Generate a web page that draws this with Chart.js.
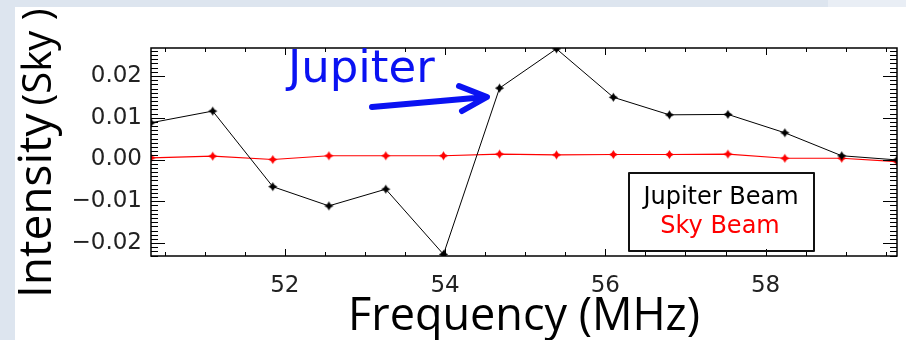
<!DOCTYPE html>
<html>
<head>
<meta charset="utf-8">
<title>Jupiter beam vs sky beam</title>
<script src="https://cdn.jsdelivr.net/npm/chart.js@4.4.0/dist/chart.umd.min.js"></script>
<style>
  html, body { margin: 0; padding: 0; }
  body { width: 906px; height: 340px; position: relative; overflow: hidden; background: #dde5ef; }
  #panel { position: absolute; left: 15px; top: 7px; width: 891px; height: 333px; background: #fff; }
  #wrap { position: absolute; left: 0; top: 0; width: 906px; height: 340px; }
  #band { position: absolute; left: 0; top: 0; width: 906px; height: 7px; background: #dde5ef; }
  #band-right { position: absolute; left: 828px; top: 0; width: 78px; height: 7px; background: #e9eef5; }
  #band-left { position: absolute; left: 0; top: 0; width: 15px; height: 340px; background: #dde5ef; }
</style>
</head>
<body>
<div id="panel"></div>
<div id="wrap"><canvas id="spectrum-chart" width="906" height="340"></canvas></div>
<div id="band"></div>
<div id="band-right"></div>
<div id="band-left"></div>
<script>
// Frequency channels (MHz)
const frequencies = [50.33, 51.10, 51.85, 52.55, 53.26, 53.98, 54.68, 55.39, 56.10, 56.80, 57.53, 58.24, 58.95, 59.64];
// Intensity (sky units)
const jupiterBeam = [0.0088, 0.0116, -0.0065, -0.0111, -0.0071, -0.0227, 0.0171, 0.0265, 0.0149, 0.0107, 0.0108, 0.0064, 0.0009, -0.0001];
const skyBeam = [0.0004, 0.0008, 0.0000, 0.0009, 0.0009, 0.0009, 0.0013, 0.0011, 0.0012, 0.0012, 0.0013, 0.0003, 0.0003, -0.0005];

const xTicks = [52, 54, 56, 58];
const yTicks = [-0.02, -0.01, 0.00, 0.01, 0.02];
const xRange = [50.33, 59.64];
const yRange = [-0.0231, 0.0267];

// small 4-point star marker, like the IDL plus symbol
function starMarker(color) {
    const c = document.createElement('canvas');
    c.width = 11; c.height = 11;
    const g = c.getContext('2d');
    const m = 5.5, r = 4.6, k = 1.7;
    g.fillStyle = color;
    g.beginPath();
    g.moveTo(m, m - r);
    g.lineTo(m + k, m - k);
    g.lineTo(m + r, m);
    g.lineTo(m + k, m + k);
    g.lineTo(m, m + r);
    g.lineTo(m - k, m + k);
    g.lineTo(m - r, m);
    g.lineTo(m - k, m - k);
    g.closePath();
    g.fill();
    return c;
}

function formatIntensity(v) {
    if (Math.abs(v) < 1e-9) return '0.00';
    return (v < 0 ? '\u2212' : '') + Math.abs(v).toFixed(2);
}

// inward ticks on all four sides + the box
const frameTicks = {
    id: 'frameTicks',
    afterDatasetsDraw(chart) {
        const { ctx, chartArea: a, scales: { x, y } } = chart;
        ctx.save();
        ctx.strokeStyle = '#000';
        ctx.lineWidth = 1;
        ctx.beginPath();
        for (let k = Math.ceil(x.min * 2); k <= Math.floor(x.max * 2); k++) {
            const px = Math.round(x.getPixelForValue(k / 2)) + 0.5;
            const len = (k % 4 === 0) ? 7 : 4;
            ctx.moveTo(px, a.bottom); ctx.lineTo(px, a.bottom - len);
            ctx.moveTo(px, a.top); ctx.lineTo(px, a.top + len);
        }
        for (let k = Math.ceil(y.min * 1000); k <= Math.floor(y.max * 1000); k++) {
            const py = Math.round(y.getPixelForValue(k / 1000)) + 0.5;
            const len = (k % 10 === 0) ? 14 : 7;
            ctx.moveTo(a.left, py); ctx.lineTo(a.left + len, py);
            ctx.moveTo(a.right, py); ctx.lineTo(a.right - len, py);
        }
        ctx.stroke();
        ctx.lineWidth = 1.5;
        ctx.strokeRect(a.left, a.top, a.right - a.left, a.bottom - a.top);
        ctx.restore();
    }
};

// y title, annotation arrow and the boxed legend
const annotations = {
    id: 'annotations',
    afterDraw(chart) {
        const ctx = chart.ctx;
        ctx.save();

        // y axis title, two sizes
        ctx.translate(51, 298);
        ctx.rotate(-Math.PI / 2);
        ctx.fillStyle = '#000';
        ctx.textBaseline = 'alphabetic';
        ctx.font = "46px 'Open Sans'";
        ctx.fillText('Intensity', 0, 0);
        const w = ctx.measureText('Intensity').width;
        ctx.font = "40px 'Open Sans'";
        ctx.fillText('(Sky )', w + 8, 0);
        ctx.setTransform(1, 0, 0, 1, 0, 0);

        // "Jupiter" label with arrow
        ctx.fillStyle = '#0a12f2';
        ctx.strokeStyle = '#0a12f2';
        ctx.font = "45px 'DejaVu Sans'";
        ctx.fillText('Jupiter', 288, 82);
        ctx.lineWidth = 6;
        ctx.lineCap = 'round';
        ctx.lineJoin = 'round';
        ctx.beginPath();
        ctx.moveTo(372, 107);
        ctx.lineTo(486, 97);
        ctx.moveTo(459, 86);
        ctx.lineTo(487, 97);
        ctx.lineTo(462, 111);
        ctx.stroke();

        // legend box
        ctx.lineWidth = 2;
        ctx.lineCap = 'butt';
        ctx.strokeStyle = '#111';
        ctx.strokeRect(629, 173, 185, 78);
        ctx.textAlign = 'center';
        ctx.font = "24px 'DejaVu Sans'";
        ctx.fillStyle = '#000';
        ctx.fillText('Jupiter Beam', 721, 204);
        ctx.fillStyle = '#ff0000';
        ctx.fillText('Sky Beam', 720, 233);
        ctx.restore();
    }
};

const chart = new Chart(document.getElementById('spectrum-chart'), {
    type: 'line',
    data: {
        datasets: [
            {
                label: 'Jupiter Beam',
                data: frequencies.map((f, i) => ({ x: f, y: jupiterBeam[i] })),
                borderColor: '#000',
                borderWidth: 1,
                pointStyle: starMarker('#000'),
                pointRadius: 4,
                tension: 0
            },
            {
                label: 'Sky Beam',
                data: frequencies.map((f, i) => ({ x: f, y: skyBeam[i] })),
                borderColor: '#ff0000',
                borderWidth: 1.2,
                pointStyle: starMarker('#ff0000'),
                pointRadius: 4,
                tension: 0
            }
        ]
    },
    options: {
        responsive: false,
        animation: false,
        layout: { padding: { left: 0, top: 48, right: 9, bottom: 0 } },
        plugins: {
            legend: { display: false },
            tooltip: { enabled: false }
        },
        scales: {
            x: {
                type: 'linear',
                min: xRange[0],
                max: xRange[1],
                afterBuildTicks: (s) => { s.ticks = xTicks.map(v => ({ value: v })); },
                afterFit: (s) => { s.height = 84; },
                grid: { display: false, drawTicks: false },
                border: { display: false },
                ticks: {
                    autoSkip: false,
                    maxRotation: 0,
                    padding: 16,
                    color: '#222',
                    font: { family: 'DejaVu Sans', size: 23 },
                    callback: (v) => String(v)
                },
                title: {
                    display: true,
                    text: 'Frequency (MHz)',
                    color: '#000',
                    font: { family: 'Open Sans', size: 45 },
                    padding: { top: 0, bottom: -4 }
                }
            },
            y: {
                type: 'linear',
                min: yRange[0],
                max: yRange[1],
                afterBuildTicks: (s) => { s.ticks = yTicks.map(v => ({ value: v })); },
                afterFit: (s) => { s.width = 151; },
                grid: { display: false, drawTicks: false },
                border: { display: false },
                ticks: {
                    autoSkip: false,
                    padding: 9,
                    color: '#222',
                    font: { family: 'DejaVu Sans', size: 23 },
                    callback: formatIntensity
                }
            }
        }
    },
    plugins: [frameTicks, annotations]
});
</script>
</body>
</html>
